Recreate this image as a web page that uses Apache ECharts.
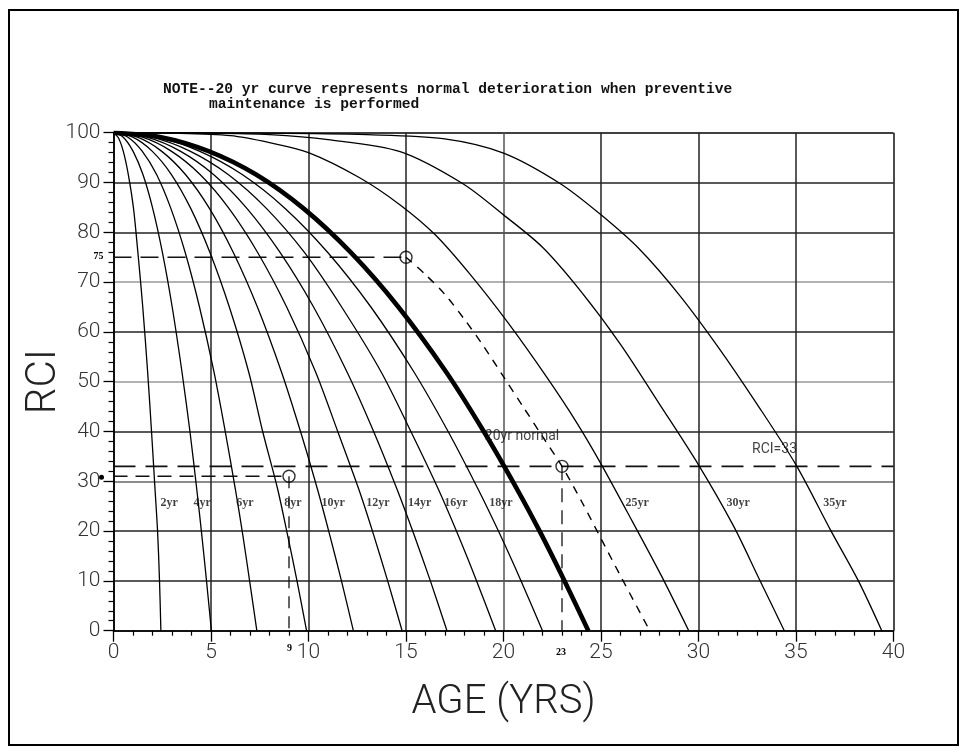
<!DOCTYPE html>
<html><head><meta charset="utf-8">
<script src="https://cdn.jsdelivr.net/npm/echarts@6/dist/echarts.min.js"></script>
<style>html,body{margin:0;padding:0;background:#fff}#c{width:971px;height:756px}</style>
</head><body><div id="c"></div>
<script>
// ---------- data (age in years, RCI) ----------
const curve2yr  = [[0,100],[0.25,99],[0.5,96.3],[0.76,91.6],[1.02,85],[1.25,76],[1.5,65],[1.75,52],[1.95,40],[2.12,29],[2.26,20],[2.36,10],[2.43,0]];
const curve4yr  = [[0,100],[0.5,99.1],[1.0,96.3],[1.51,91.6],[2.01,84.8],[2.51,75.9],[3.01,65],[3.51,52],[3.92,40],[4.27,28.4],[4.52,19.5],[4.77,10],[5.02,0]];
const curve6yr  = [[0,100],[0.74,99.1],[1.47,96.3],[2.21,91.6],[2.94,84.8],[3.68,75.9],[4.41,65],[5.15,52],[5.73,40],[6.25,28.4],[6.62,19.5],[6.98,10],[7.35,0]];
const curve8yr  = [[0,100],[0.99,99.1],[1.98,96.3],[2.97,91.6],[3.96,84.8],[4.95,75.9],[5.94,65],[6.93,52],[7.65,40],[8.42,28.4],[8.91,19.5],[9.41,10],[9.9,0]];
const curve10yr = [[0,100],[1.23,99.1],[2.46,96.3],[3.69,91.6],[4.92,84.8],[6.15,75.9],[7.38,65],[8.61,52],[9.59,40],[10.46,28.4],[11.07,19.5],[11.69,10],[12.3,0]];
const curve12yr = [[0,100],[1.48,99.1],[2.96,96.3],[4.44,91.6],[5.92,84.8],[7.4,75.9],[8.88,65],[10.36,52],[11.5,40],[12.58,28.4],[13.32,19.5],[14.06,10],[14.8,0]];
const curve14yr = [[0,100],[1.71,99.1],[3.42,96.3],[5.13,91.6],[6.84,84.8],[8.55,75.9],[10.26,65],[11.97,52],[13.34,40],[14.54,28.4],[15.39,19.5],[16.25,10],[17.1,0]];
const curve16yr = [[0,100],[1.96,99.1],[3.92,96.3],[5.88,91.6],[7.84,84.8],[9.8,75.9],[11.7,65],[13.72,52],[15.25,40],[16.66,28.4],[17.64,19.5],[18.62,10],[19.6,0]];
const curve18yr = [[0,100],[2.2,99.1],[4.4,96.3],[6.6,91.6],[8.8,84.8],[11.0,75.9],[13.2,65],[15.4,52],[17.16,40],[18.7,28.4],[19.8,19.5],[20.9,10],[22.0,0]];
const curve20yr = [[0,100],[2.44,99.1],[4.87,96.3],[7.31,91.6],[9.74,84.8],[12.18,75.9],[14.61,65],[17.05,52],[18.99,40],[20.7,28.4],[21.92,19.5],[23.13,10],[24.35,0]];
const curve25yr = [[0,100],[3,99.9],[6,99.4],[8,98],[10,96],[12.6,91],[14.7,85.5],[16.5,79.5],[18.3,71.5],[20.2,62],[22.2,51],[23.8,41.5],[25,33.5],[26.6,22],[28.1,11],[29.5,0]];
const curve30yr = [[0,100],[5,99.9],[8,99.6],[11,98.6],[14.7,96.2],[17.9,89.8],[20,83.5],[22,77],[24,68],[26,57.5],[28,45.5],[30,33.3],[31.8,21],[33.1,10.5],[34.4,0]];
const curve35yr = [[0,100],[8,99.9],[13,99.6],[16.9,98.8],[20,95.9],[22.9,89.8],[25,83.5],[27,76.5],[29,67.5],[31,57],[33,45.5],[35,33.3],[36.8,20],[38.2,10],[39.4,0]];
const curveAfterMaint = [[15,75],[16,71.5],[17,67.5],[18,62.5],[19,57],[20,51],[21,45],[22,39],[23,33],[24,26],[25,18.5],[26,11],[27.5,0]];

const line75   = [[0,75],[15,75]];
const line33   = [[0,33],[40,33]];
const line31   = [[0,31],[9,31]];
const vline9   = [[9,31],[9,0]];
const vline23  = [[23,33],[23,0]];
const circlePoints = [[15,75],[23,33],[9,31]];

const curveNames = ['2yr','4yr','6yr','8yr','10yr','12yr','14yr','16yr','18yr','20yr','25yr','30yr','35yr'];
const curves = [curve2yr,curve4yr,curve6yr,curve8yr,curve10yr,curve12yr,curve14yr,curve16yr,curve18yr,curve20yr,curve25yr,curve30yr,curve35yr];

const xMin = 0, xMax = 40, xStep = 5;
const yMin = 0, yMax = 100, yStep = 10;

// ---------- chart ----------
const chart = echarts.init(document.getElementById('c'), null, {renderer:'canvas'});
const tickFont = {fontFamily:'Roboto', fontWeight:300, fontSize:21, color:'#333'};

const series = [];
curves.forEach((c,i)=>{
  const thick = curveNames[i]==='20yr';
  series.push({
    name: curveNames[i], type:'line', data:c, showSymbol:false, smooth:0.3,
    lineStyle:{color:'#000', width: thick?4.6:1.3}, z: thick?6:4, silent:true
  });
});
series.push({type:'line', data:curveAfterMaint, showSymbol:false, smooth:0.3,
  lineStyle:{color:'#000', width:1.4, type:[8,7]}, z:4});
const dashed = (d, dash, w) => ({type:'line', data:d, showSymbol:false, lineStyle:{color:'#111', width:w, type:dash}, z:3});
series.push(dashed(line75,[18,9],1.5));
series.push(dashed(line33,[22,10],1.6));
series.push(dashed(line31,[14,8],1.4));
series.push(dashed(vline9,[12,8],1.3));
series.push(dashed(vline23,[14,8],1.3));
series.push({type:'scatter', data:circlePoints, symbol:'circle', symbolSize:12,
  itemStyle:{color:'rgba(255,255,255,0)', borderColor:'#000', borderWidth:1.4}, z:7});

// curve name labels (anchored in data coordinates just right of each curve)
const labelAnchors = {'2yr':2.85,'4yr':4.55,'6yr':6.74,'8yr':9.2,'10yr':11.26,'12yr':13.56,'14yr':15.7,'16yr':17.56,'18yr':19.87,'25yr':26.85,'30yr':32.03,'35yr':37.0};
const blank = {color:'rgba(0,0,0,0)', borderWidth:0};
series.push({type:'scatter', symbol:'rect', symbolSize:2, itemStyle:blank, z:8,
  data: Object.keys(labelAnchors).map(k=>({name:k, value:[labelAnchors[k],25.6]})),
  label:{show:true, position:'inside', formatter:p=>p.name,
    fontFamily:'Liberation Serif', fontWeight:'bold', fontSize:12, color:'#111'}});
series.push({type:'scatter', symbol:'rect', symbolSize:2, itemStyle:blank, z:8,
  data:[{name:'20yr normal', value:[20.95,38.9]},{name:'RCI=33', value:[33.9,36.4]}],
  label:{show:true, position:'inside', formatter:p=>p.name,
    fontFamily:'Roboto', fontWeight:400, fontSize:14, color:'#111'}});

chart.setOption({
  animation:false,
  backgroundColor:'#fff',
  grid:{left:113.5, right:77.5, top:132.7, bottom:125.3, show:false},
  xAxis:{type:'value', min:xMin, max:xMax, interval:xStep,
    name:'AGE (YRS)', nameLocation:'middle', nameGap:52,
    nameTextStyle:{fontFamily:'Roboto', fontWeight:300, fontSize:40, color:'#222'},
    axisLine:{show:true, onZero:false, lineStyle:{color:'#000', width:1.6}},
    axisTick:{show:true, length:11, lineStyle:{color:'#000', width:1.3}},
    minorTick:{show:true, splitNumber:5, length:5, lineStyle:{color:'#000', width:1.2}},
    axisLabel:Object.assign({margin:12}, tickFont),
    splitLine:{show:true, lineStyle:{width:1.5, color:['#111','#222','#222','#222','#555','#222','#222','#222','#111']}}
  },
  yAxis:{type:'value', min:yMin, max:yMax, interval:yStep,
    name:'RCI', nameLocation:'middle', nameGap:48, nameRotate:90, nameMoveOverlap:false,
    nameTextStyle:{fontFamily:'Roboto', fontWeight:300, fontSize:42, color:'#222'},
    axisLine:{show:true, onZero:false, lineStyle:{color:'#000', width:1.6}},
    axisTick:{show:true, length:10, lineStyle:{color:'#000', width:1.3}},
    minorTick:{show:true, splitNumber:5, length:5, lineStyle:{color:'#000', width:1.2}},
    axisLabel:Object.assign({margin:13}, tickFont),
    splitLine:{show:true, lineStyle:{width:1.5, color:['#111','#222','#222','#666','#222','#999','#222','#999','#222','#222','#000']}}
  },
  series: series
});

// annotations placed through the chart's own coordinate conversion
const px = (x,y) => chart.convertToPixel({gridIndex:0},[x,y]);
const p75 = px(xMin,75), p31 = px(xMin,31), p9 = px(9,yMin), p23 = px(23,yMin);
const smallBold = {fontFamily:'Liberation Serif', fontWeight:'bold', fontSize:10, fill:'#000'};
chart.setOption({graphic:[
  {type:'rect', shape:{x:9, y:10, width:949, height:735}, style:{fill:'none', stroke:'#000', lineWidth:2}, silent:true},
  {type:'text', left:163, top:82, style:{text:'NOTE--20 yr curve represents normal deterioration when preventive', font:'bold 14.6px "Liberation Mono"', fill:'#111'}},
  {type:'text', left:209, top:97, style:{text:'maintenance is performed', font:'bold 14.6px "Liberation Mono"', fill:'#111'}},
  {type:'text', x:p75[0]-20, y:p75[1]-6, style:Object.assign({text:'75'}, smallBold)},
  {type:'circle', shape:{cx:p31[0]-12, cy:p31[1]+1, r:2.5}, style:{fill:'#000'}},
  {type:'text', x:p9[0]-2, y:p9[1]+13, style:Object.assign({text:'9'}, smallBold)},
  {type:'text', x:p23[0]-6, y:p23[1]+17, style:Object.assign({text:'23'}, smallBold)}
]});
</script>
</body></html>
